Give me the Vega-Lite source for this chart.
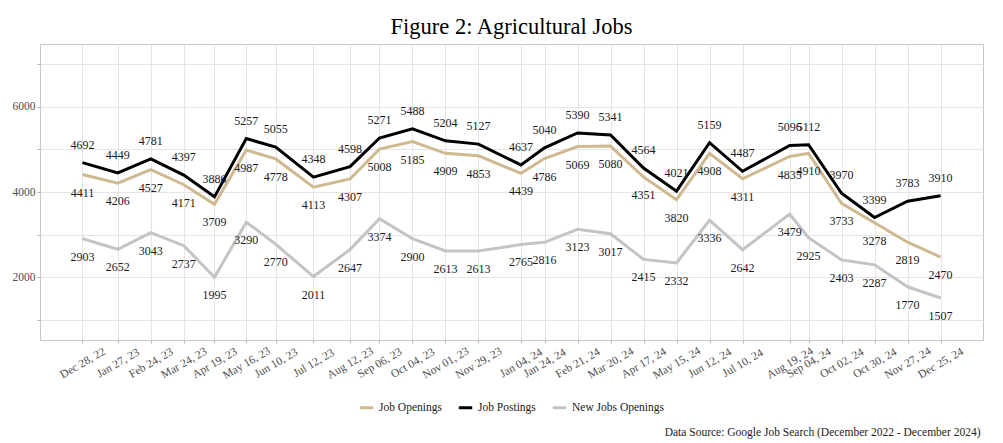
{
  "$schema": "https://vega.github.io/schema/vega-lite/v6.json",
  "width": 943,
  "height": 296,
  "autosize": {"type": "none"},
  "padding": {"left": 40, "top": 44, "right": 20, "bottom": 103},
  "background": "white",
  "title": {"text": "Figure 2: Agricultural Jobs", "font": "Liberation Serif", "fontSize": 22.5, "fontWeight": "normal", "color": "#000000", "anchor": "middle", "offset": 6},
  "data": {"values": [
    {"date": "2022-12-28", "Job Openings": 4411, "Job Postings": 4692, "New Jobs Openings": 2903},
    {"date": "2023-01-27", "Job Openings": 4206, "Job Postings": 4449, "New Jobs Openings": 2652},
    {"date": "2023-02-24", "Job Openings": 4527, "Job Postings": 4781, "New Jobs Openings": 3043},
    {"date": "2023-03-24", "Job Openings": 4171, "Job Postings": 4397, "New Jobs Openings": 2737},
    {"date": "2023-04-19", "Job Openings": 3709, "Job Postings": 3886, "New Jobs Openings": 1995},
    {"date": "2023-05-16", "Job Openings": 4987, "Job Postings": 5257, "New Jobs Openings": 3290},
    {"date": "2023-06-10", "Job Openings": 4778, "Job Postings": 5055, "New Jobs Openings": 2770},
    {"date": "2023-07-12", "Job Openings": 4113, "Job Postings": 4348, "New Jobs Openings": 2011},
    {"date": "2023-08-12", "Job Openings": 4307, "Job Postings": 4598, "New Jobs Openings": 2647},
    {"date": "2023-09-06", "Job Openings": 5008, "Job Postings": 5271, "New Jobs Openings": 3374},
    {"date": "2023-10-04", "Job Openings": 5185, "Job Postings": 5488, "New Jobs Openings": 2900},
    {"date": "2023-11-01", "Job Openings": 4909, "Job Postings": 5204, "New Jobs Openings": 2613},
    {"date": "2023-11-29", "Job Openings": 4853, "Job Postings": 5127, "New Jobs Openings": 2613},
    {"date": "2024-01-04", "Job Openings": 4439, "Job Postings": 4637, "New Jobs Openings": 2765},
    {"date": "2024-01-24", "Job Openings": 4786, "Job Postings": 5040, "New Jobs Openings": 2816},
    {"date": "2024-02-21", "Job Openings": 5069, "Job Postings": 5390, "New Jobs Openings": 3123},
    {"date": "2024-03-20", "Job Openings": 5080, "Job Postings": 5341, "New Jobs Openings": 3017},
    {"date": "2024-04-17", "Job Openings": 4351, "Job Postings": 4564, "New Jobs Openings": 2415},
    {"date": "2024-05-15", "Job Openings": 3820, "Job Postings": 4021, "New Jobs Openings": 2332},
    {"date": "2024-06-12", "Job Openings": 4908, "Job Postings": 5159, "New Jobs Openings": 3336},
    {"date": "2024-07-10", "Job Openings": 4311, "Job Postings": 4487, "New Jobs Openings": 2642},
    {"date": "2024-08-19", "Job Openings": 4835, "Job Postings": 5096, "New Jobs Openings": 3479},
    {"date": "2024-09-04", "Job Openings": 4910, "Job Postings": 5112, "New Jobs Openings": 2925},
    {"date": "2024-10-02", "Job Openings": 3733, "Job Postings": 3970, "New Jobs Openings": 2403},
    {"date": "2024-10-30", "Job Openings": 3278, "Job Postings": 3399, "New Jobs Openings": 2287},
    {"date": "2024-11-27", "Job Openings": 2819, "Job Postings": 3783, "New Jobs Openings": 1770},
    {"date": "2024-12-25", "Job Openings": 2470, "Job Postings": 3910, "New Jobs Openings": 1507}
  ]},
  "transform": [{"fold": ["Job Openings", "Job Postings", "New Jobs Openings"], "as": ["series", "value"]}],
  "encoding": {
    "x": {
      "field": "date", "type": "temporal", "timeUnit": "utcyearmonthdate",
      "scale": {"domain": [{"year": 2022, "month": 11, "date": 22, "utc": true}, {"year": 2025, "month": 1, "date": 30, "utc": true}]},
      "axis": {
        "values": [
          {"year": 2022, "month": 12, "date": 28, "utc": true},
          {"year": 2023, "month": 1, "date": 27, "utc": true},
          {"year": 2023, "month": 2, "date": 24, "utc": true},
          {"year": 2023, "month": 3, "date": 24, "utc": true},
          {"year": 2023, "month": 4, "date": 19, "utc": true},
          {"year": 2023, "month": 5, "date": 16, "utc": true},
          {"year": 2023, "month": 6, "date": 10, "utc": true},
          {"year": 2023, "month": 7, "date": 12, "utc": true},
          {"year": 2023, "month": 8, "date": 12, "utc": true},
          {"year": 2023, "month": 9, "date": 6, "utc": true},
          {"year": 2023, "month": 10, "date": 4, "utc": true},
          {"year": 2023, "month": 11, "date": 1, "utc": true},
          {"year": 2023, "month": 11, "date": 29, "utc": true},
          {"year": 2024, "month": 1, "date": 4, "utc": true},
          {"year": 2024, "month": 1, "date": 24, "utc": true},
          {"year": 2024, "month": 2, "date": 21, "utc": true},
          {"year": 2024, "month": 3, "date": 20, "utc": true},
          {"year": 2024, "month": 4, "date": 17, "utc": true},
          {"year": 2024, "month": 5, "date": 15, "utc": true},
          {"year": 2024, "month": 6, "date": 12, "utc": true},
          {"year": 2024, "month": 7, "date": 10, "utc": true},
          {"year": 2024, "month": 8, "date": 19, "utc": true},
          {"year": 2024, "month": 9, "date": 4, "utc": true},
          {"year": 2024, "month": 10, "date": 2, "utc": true},
          {"year": 2024, "month": 10, "date": 30, "utc": true},
          {"year": 2024, "month": 11, "date": 27, "utc": true},
          {"year": 2024, "month": 12, "date": 25, "utc": true}
        ],
        "format": "%b %d, %y",
        "labelAngle": -30, "labelAlign": "center", "labelBaseline": "middle",
        "labelPadding": 20, "labelOverlap": false, "labelFlush": false,
        "labelFont": "Liberation Serif", "labelFontSize": 11.5, "labelColor": "#4d4d4d",
        "tickColor": "#b3b3b3", "tickSize": 3, "domain": false,
        "grid": true, "gridColor": "#e5e5e5",
        "title": "Data Source: Google Job Search (December 2022 - December 2024)",
        "titleAnchor": "end", "titleFont": "Liberation Serif", "titleFontSize": 11.5,
        "titleFontWeight": "normal", "titleColor": "#222222", "titleY": 92, "titleX": 940, "titleAlign": "right", "titleBaseline": "middle"
      }
    },
    "y": {
      "field": "value", "type": "quantitative",
      "scale": {"domain": [518, 7482], "nice": false, "zero": false},
      "axis": {
        "values": [1000, 2000, 3000, 4000, 5000, 6000, 7000],
        "labelExpr": "datum.value % 2000 == 0 ? format(datum.value, 'd') : ''",
        "title": null, "domain": false, "tickSize": 3, "tickColor": "#b3b3b3", "labelPadding": 2,
        "labelFont": "Liberation Serif", "labelFontSize": 11.5, "labelColor": "#4d4d4d",
        "grid": true, "gridColor": "#e5e5e5"
      }
    }
  },
  "layer": [
    {
      "mark": {"type": "line", "strokeWidth": 3},
      "encoding": {
        "color": {
          "field": "series", "type": "nominal",
          "scale": {"domain": ["Job Openings", "Job Postings", "New Jobs Openings"], "range": ["#CFB991", "#000000", "#C4C4C4"]},
          "legend": {
            "orient": "none", "legendX": 318, "legendY": 355, "direction": "horizontal", "title": null,
            "symbolType": "stroke", "symbolStrokeWidth": 3, "symbolSize": 180,
            "labelFont": "Liberation Serif", "labelFontSize": 11.5, "labelColor": "#222222", "columnPadding": 10
          }
        }
      }
    },
    {
      "transform": [{"filter": "datum.series == 'Job Postings'"}],
      "mark": {"type": "text", "dy": -18, "font": "Liberation Serif", "fontSize": 12, "color": "#1a1a1a"},
      "encoding": {"text": {"field": "value", "type": "quantitative", "format": "d"}}
    },
    {
      "transform": [{"filter": "datum.series != 'Job Postings'"}],
      "mark": {"type": "text", "dy": 18, "font": "Liberation Serif", "fontSize": 12, "color": "#1a1a1a"},
      "encoding": {"text": {"field": "value", "type": "quantitative", "format": "d"}}
    }
  ],
  "config": {"view": {"stroke": "#c8c8c8"}, "font": "Liberation Serif"}
}
